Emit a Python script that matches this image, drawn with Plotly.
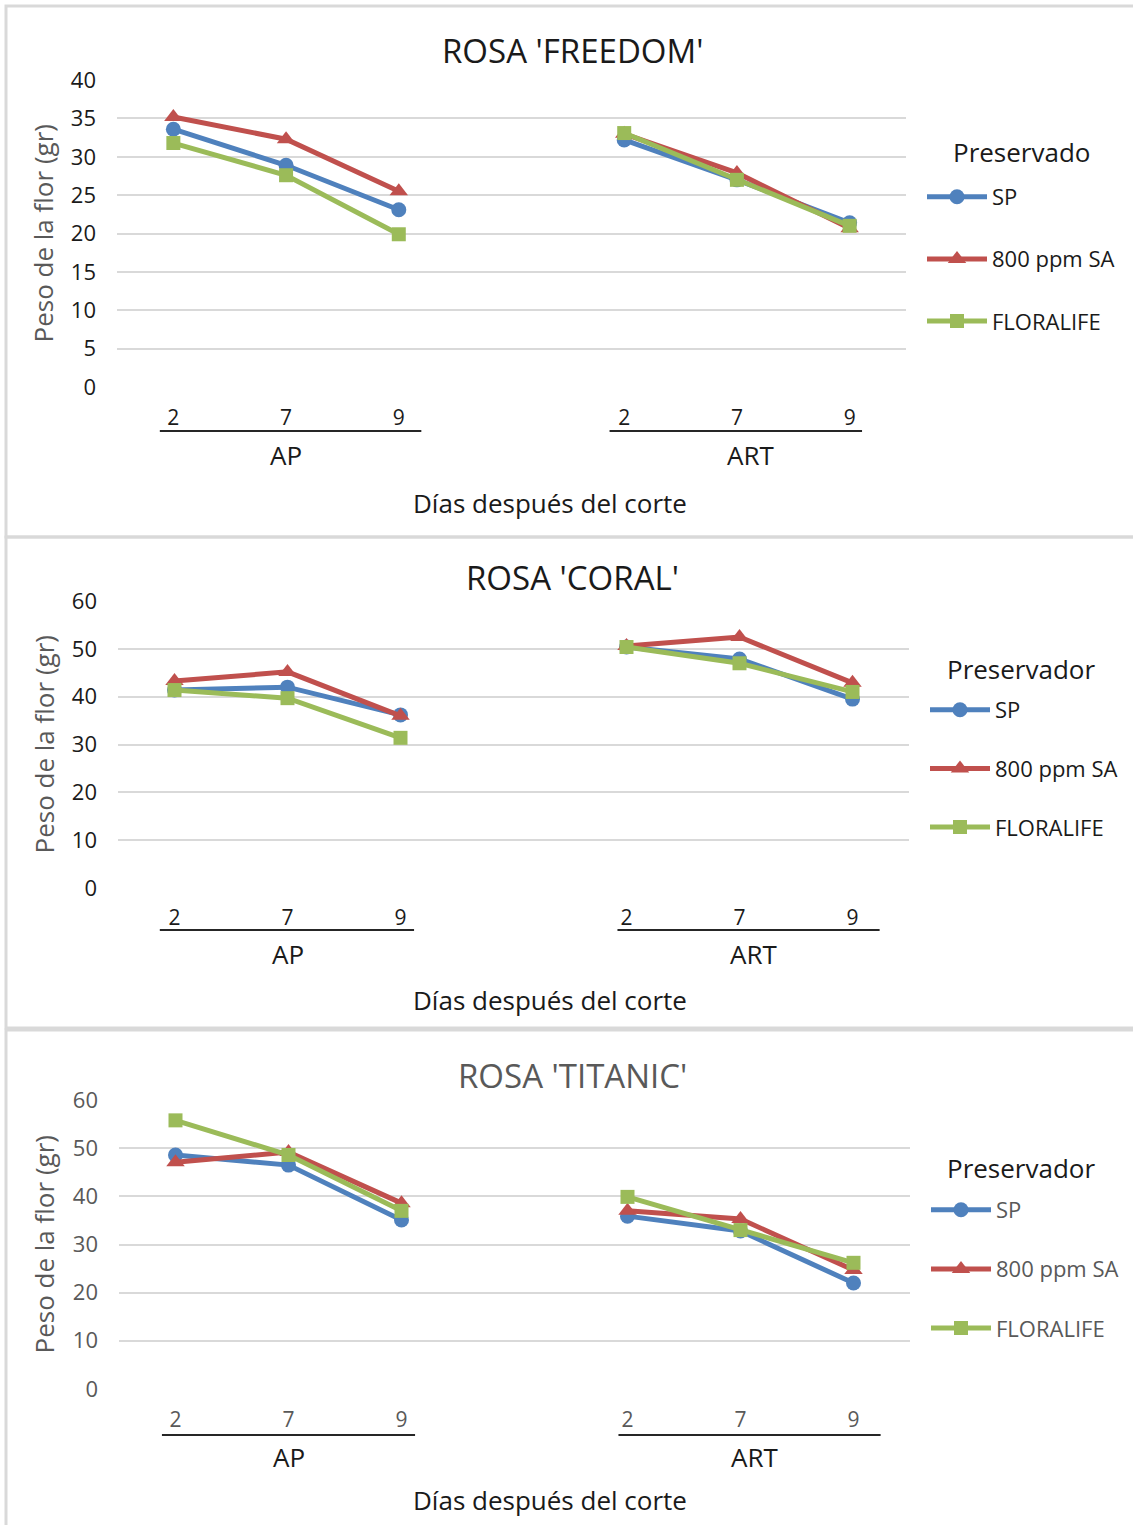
import plotly.graph_objects as go

# Categorías del eje X: días después del corte dentro de cada condición
DAYS = ["2", "7", "9"]
GROUPS = ["AP", "ART"]
SERIES = ["SP", "800 ppm SA", "FLORALIFE"]

# Peso de la flor (gr), orden: AP 2, 7, 9, ART 2, 7, 9
freedom_sp = [33.6, 28.9, 23.1, 32.2, 27.0, 21.4]
freedom_sa = [35.2, 32.3, 25.5, 33.0, 27.9, 20.7]
freedom_fl = [31.8, 27.6, 19.9, 33.1, 27.0, 21.0]

coral_sp = [41.4, 42.0, 36.2, 50.4, 47.9, 39.5]
coral_sa = [43.3, 45.2, 36.0, 50.6, 52.5, 42.9]
coral_fl = [41.4, 39.7, 31.4, 50.4, 47.0, 41.0]

titanic_sp = [48.6, 46.5, 35.1, 35.9, 32.8, 22.0]
titanic_sa = [47.1, 49.2, 38.6, 37.0, 35.3, 24.7]
titanic_fl = [55.8, 48.6, 37.0, 39.9, 33.0, 26.2]

W, H = 1133, 1525
FONT = "Open Sans"
BLACK = "#1a1a1a"
GRAY = "#595959"
GRID = "#d9d9d9"

COLORS = ["#4f81bd", "#c0504d", "#9bbb59"]
SYMBOLS = ["circle", "triangle-up", "square"]
MSIZES = [15, 16, 14]


def fx(px):
    return px / W


def fy(py):
    return 1 - py / H


# posición numérica de cada categoría (un hueco vacío entre los dos grupos)
step = len(DAYS) + 1
positions = [g * step + d for g in range(len(GROUPS)) for d in range(len(DAYS))]


def with_gaps(xs, ys):
    """Inserta un hueco entre grupos para que la línea no los una."""
    gx, gy = [], []
    for g in range(len(GROUPS)):
        sl = slice(g * len(DAYS), (g + 1) * len(DAYS))
        if g:
            gx.append(None)
            gy.append(None)
        gx += xs[sl]
        gy += ys[sl]
    return gx, gy


panels = [
    dict(title="ROSA 'FREEDOM'", values=[freedom_sp, freedom_sa, freedom_fl], ymax=40, dtick=5,
         title_y=50, px0=117, px1=906, pyb=387, pyt=80, tick_y=418, line_y=431, group_y=455,
         line_pad=[(-0.12, 0.2), (-0.13, 0.11)],
         axis_title_y=503, box=(6, 6, 1140, 537), legend_title="Preservado", legend_title_y=152,
         legend_x=922, item_y=197, legend_gap=30.5, text_color=BLACK, title_color=BLACK),
    dict(title="ROSA 'CORAL'", values=[coral_sp, coral_sa, coral_fl], ymax=60, dtick=10,
         title_y=577, px0=118, px1=909, pyb=888, pyt=601, tick_y=918, line_y=930, group_y=954,
         line_pad=[(-0.13, 0.12), (-0.08, 0.24)],
         axis_title_y=1000, box=(6, 537, 1140, 1028), legend_title="Preservador", legend_title_y=669,
         legend_x=925, item_y=710, legend_gap=27, text_color=BLACK, title_color=BLACK),
    dict(title="ROSA 'TITANIC'", values=[titanic_sp, titanic_sa, titanic_fl], ymax=60, dtick=10,
         title_y=1075, px0=119, px1=910, pyb=1389, pyt=1100, tick_y=1420, line_y=1435, group_y=1457,
         line_pad=[(-0.12, 0.12), (-0.08, 0.24)],
         axis_title_y=1500, box=(6, 1030, 1140, 1530), legend_title="Preservador", legend_title_y=1168,
         legend_x=926, item_y=1210, legend_gap=27.5, text_color=GRAY, title_color=GRAY),
]

fig = go.Figure()
layout = dict(width=W, height=H, margin=dict(l=0, r=0, t=0, b=0),
              paper_bgcolor="white", plot_bgcolor="white",
              font=dict(family=FONT, color=BLACK), showlegend=True)
annotations = []
shapes = []

for i, p in enumerate(panels):
    n = "" if i == 0 else str(i + 1)
    xa, ya = "x" + n, "y" + n
    leg = "legend" + n

    for s, (name, vals) in enumerate(zip(SERIES, p["values"])):
        gx, gy = with_gaps(positions, vals)
        fig.add_trace(go.Scatter(
            x=gx, y=gy, name=name, mode="lines+markers", connectgaps=False,
            xaxis=xa, yaxis=ya, legend=leg, legendgroup=f"{i}-{s}",
            line=dict(color=COLORS[s], width=5),
            marker=dict(symbol=SYMBOLS[s], size=MSIZES[s], color=COLORS[s]),
            hoverinfo="skip"))

    layout["xaxis" + n] = dict(
        domain=[fx(p["px0"]), fx(p["px1"])], anchor=ya, range=[-0.5, 6.5],
        showgrid=False, zeroline=False, showline=False,
        tickvals=positions, ticktext=DAYS * len(GROUPS), ticks="",
        ticklabelstandoff=p["tick_y"] - p["pyb"] - 15,
        tickfont=dict(size=21, color=p["text_color"]), automargin=False)
    layout["yaxis" + n] = dict(
        domain=[fy(p["pyb"]), fy(p["pyt"])], anchor=xa,
        range=[-0.02, p["ymax"] * 1.0005], dtick=p["dtick"], tick0=0,
        showgrid=True, gridcolor=GRID, gridwidth=2, zeroline=False, showline=False,
        ticks="", ticklabelstandoff=20,
        tickfont=dict(size=22, color=p["text_color"]), automargin=False)

    layout[leg] = dict(
        x=fx(p["legend_x"]), y=fy(p["item_y"] - 21), xanchor="left", yanchor="top",
        xref="paper", yref="paper", bgcolor="rgba(0,0,0,0)",
        font=dict(size=22, color=p["text_color"], family=FONT),
        tracegroupgap=p["legend_gap"], itemwidth=60, itemclick=False)

    # título de la leyenda
    annotations.append(dict(text=p["legend_title"], x=fx(1021), y=fy(p["legend_title_y"]),
                            xref="paper", yref="paper", showarrow=False,
                            font=dict(size=26, color=BLACK), xanchor="center", yanchor="middle"))
    # título del gráfico
    annotations.append(dict(text=p["title"], x=fx(572), y=fy(p["title_y"]), xref="paper", yref="paper",
                            showarrow=False, font=dict(size=33, color=p["title_color"]),
                            xanchor="center", yanchor="middle"))
    # título del eje Y
    annotations.append(dict(text="Peso de la flor (gr)", x=fx(43), y=fy((p["pyb"] + p["pyt"]) / 2),
                            xref="paper", yref="paper", showarrow=False, textangle=-90,
                            font=dict(size=26, color=GRAY), xanchor="center", yanchor="middle"))
    # título del eje X
    annotations.append(dict(text="Días después del corte", x=fx(550), y=fy(p["axis_title_y"]),
                            xref="paper", yref="paper", showarrow=False,
                            font=dict(size=26, color=BLACK), xanchor="center", yanchor="middle"))
    # etiquetas de grupo con su línea divisoria
    label_shift = [0.0, 0.12]
    for g, grp in enumerate(GROUPS):
        gpos = positions[g * len(DAYS):(g + 1) * len(DAYS)]
        pad0, pad1 = p["line_pad"][g]
        annotations.append(dict(text=grp, x=sum(gpos) / len(gpos) + label_shift[g], xref=xa,
                                y=fy(p["group_y"]), yref="paper", showarrow=False,
                                font=dict(size=26, color=BLACK), xanchor="center", yanchor="middle"))
        shapes.append(dict(type="line", xref=xa, yref="paper",
                           x0=gpos[0] + pad0, x1=gpos[-1] + pad1,
                           y0=fy(p["line_y"]), y1=fy(p["line_y"]),
                           line=dict(color="#262626", width=2)))
    # borde del área del gráfico
    bx0, by0, bx1, by1 = p["box"]
    shapes.append(dict(type="rect", xref="paper", yref="paper",
                       x0=fx(bx0), x1=fx(bx1), y0=fy(by1), y1=fy(by0),
                       line=dict(color=GRID, width=3), fillcolor="rgba(0,0,0,0)", layer="below"))

layout["annotations"] = annotations
layout["shapes"] = shapes
fig.update_layout(**layout)
fig.write_html("out.html")
